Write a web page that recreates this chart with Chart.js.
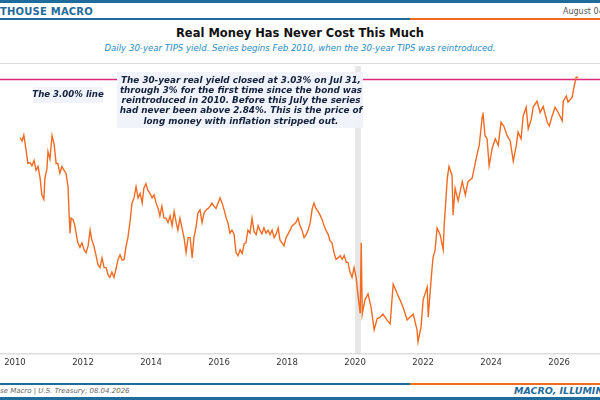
<!DOCTYPE html>
<html><head><meta charset="utf-8">
<script src="https://cdn.jsdelivr.net/npm/chart.js@4"></script>
<style>
html,body{margin:0;padding:0;width:600px;height:400px;overflow:hidden;background:#fff;font-family:"DejaVu Sans",sans-serif;}
.abs{position:absolute;}
</style></head><body>
<div class="abs" style="left:0;top:0;width:600px;height:3px;background:#1f6b9c"></div>
<div class="abs" style="left:0;top:6px;font-size:10px;font-weight:bold;color:#1f6b9c;letter-spacing:0.2px">THOUSE MACRO</div>
<div class="abs" style="left:563px;top:7px;font-size:8px;color:#555;white-space:nowrap">August 04</div>
<div class="abs" style="left:0;top:18px;width:410px;height:2px;background:#1f6b9c"></div>
<div class="abs" style="left:410px;top:18px;width:190px;height:2px;background:#f26b21"></div>
<div class="abs" style="left:0;top:26px;width:600px;text-align:center;font-size:11.5px;font-weight:bold;color:#111">Real Money Has Never Cost This Much</div>
<div class="abs" style="left:0;top:43px;width:600px;text-align:center;font-size:8.6px;font-style:italic;color:#2b8bbf">Daily 30-year TIPS yield. Series begins Feb 2010, when the 30-year TIPS was reintroduced.</div>
<div class="abs" style="left:0;top:63px;width:600px;height:1px;background:#ddd"></div>
<div class="abs" style="left:0;top:66px;width:600px;height:306px"><canvas id="c"></canvas></div>
<div class="abs" style="left:0;top:383px;width:410px;height:1.5px;background:#1f6b9c"></div>
<div class="abs" style="left:410px;top:383px;width:190px;height:1.5px;background:#f26b21"></div>
<div class="abs" style="left:0;top:387px;font-size:7px;font-style:italic;color:#666">se Macro | U.S. Treasury; 08.04.2026</div>
<div class="abs" style="left:514px;top:385px;font-size:9.5px;font-weight:bold;font-style:italic;color:#1f6b9c;white-space:nowrap">MACRO, ILLUMINATED.</div>
<div class="abs" style="left:0;top:397px;width:600px;height:3px;background:#1f6b9c"></div>
<script>
const years = [2010.15,2010.21,2010.26,2010.32,2010.38,2010.44,2010.50,2010.56,2010.62,2010.68,2010.74,2010.79,2010.85,2010.88,2010.94,2010.97,
2011.03,2011.09,2011.15,2011.21,2011.26,2011.32,2011.38,2011.44,2011.50,2011.56,2011.59,2011.62,2011.65,2011.71,2011.76,2011.82,2011.85,2011.91,2011.97,
2012.03,2012.09,2012.15,2012.21,2012.26,2012.32,2012.38,2012.44,2012.50,2012.56,2012.62,2012.68,2012.74,2012.79,2012.85,2012.91,2012.97,
2013.03,2013.09,2013.15,2013.21,2013.26,2013.32,2013.38,2013.44,2013.50,2013.56,2013.62,2013.68,2013.74,2013.79,2013.85,2013.91,2013.97,
2014.03,2014.09,2014.15,2014.21,2014.26,2014.32,2014.38,2014.44,2014.50,2014.56,2014.62,2014.68,2014.74,2014.79,2014.85,2014.91,2014.97,
2015.03,2015.09,2015.15,2015.21,2015.26,2015.32,2015.38,2015.44,2015.50,2015.56,2015.62,2015.68,2015.74,2015.79,2015.85,2015.91,2015.97,
2016.03,2016.09,2016.15,2016.21,2016.26,2016.32,2016.38,2016.44,2016.50,2016.56,2016.62,2016.68,2016.74,2016.79,2016.85,2016.91,2016.97,
2017.03,2017.09,2017.15,2017.21,2017.26,2017.32,2017.38,2017.44,2017.50,2017.56,2017.62,2017.68,2017.74,2017.79,2017.85,2017.91,2017.97,
2018.03,2018.09,2018.15,2018.21,2018.26,2018.32,2018.38,2018.44,2018.50,2018.56,2018.62,2018.68,2018.74,2018.79,2018.85,2018.91,2018.97,
2019.03,2019.09,2019.15,2019.21,2019.26,2019.32,2019.38,2019.44,2019.50,2019.56,2019.62,2019.68,2019.74,2019.79,2019.85,2019.91,2019.97,
2020.03,2020.09,2020.15,2020.18,2020.21,2020.29,2020.38,2020.47,2020.56,2020.65,2020.74,2020.82,2020.94,
2021.03,2021.12,2021.24,2021.32,2021.41,2021.53,2021.62,2021.71,2021.82,2021.85,2021.94,
2022.00,2022.12,2022.15,2022.24,2022.29,2022.35,2022.41,2022.50,2022.59,2022.62,2022.71,2022.76,2022.85,2022.88,2022.94,
2023.03,2023.15,2023.24,2023.32,2023.44,2023.50,2023.59,2023.65,2023.74,2023.76,2023.82,2023.88,2023.94,
2024.03,2024.12,2024.21,2024.29,2024.38,2024.47,2024.56,2024.65,2024.74,2024.79,2024.88,2024.94,
2025.03,2025.09,2025.18,2025.24,2025.35,2025.44,2025.53,2025.65,2025.71,2025.79,2025.88,2025.97,
2026.09,2026.12,2026.21,2026.26,2026.38,2026.44,2026.50,2026.56];
const yields = [2.22,2.18,2.26,2.08,1.88,1.89,1.85,1.92,1.79,1.84,1.68,1.46,1.40,1.68,1.81,2.04,
1.94,2.25,2.14,1.88,1.88,1.75,1.84,1.79,1.75,1.57,1.22,0.95,1.15,1.13,1.05,0.89,0.82,0.76,0.82,
0.73,0.69,0.78,0.99,0.86,0.78,0.66,0.53,0.49,0.62,0.49,0.49,0.39,0.36,0.43,0.36,0.47,
0.60,0.66,0.59,0.60,0.76,0.89,1.09,1.35,1.42,1.57,1.42,1.48,1.35,1.55,1.61,1.52,1.48,
1.42,1.46,1.35,1.28,1.18,1.31,1.15,1.15,1.09,1.18,1.05,1.24,1.09,0.99,1.15,1.02,0.89,
0.69,0.89,0.89,0.62,0.89,1.02,1.22,1.26,1.09,1.22,1.26,1.28,1.31,1.35,1.31,1.28,1.35,
1.42,1.35,1.26,1.15,1.09,0.95,0.99,0.94,0.69,0.65,0.73,0.68,0.81,0.82,0.99,0.95,1.15,
0.97,0.93,1.05,0.98,0.94,1.02,0.95,0.99,0.93,0.99,0.89,0.94,1.02,0.86,0.82,0.78,0.89,
0.94,0.99,1.05,1.07,1.09,1.15,1.05,0.99,0.89,0.93,0.99,1.09,1.28,1.35,1.28,1.24,1.19,
1.13,1.05,0.98,0.93,0.85,0.82,0.69,0.60,0.62,0.65,0.60,0.65,0.56,0.56,0.43,0.36,0.49,
0.36,0.10,-0.12,0.82,-0.13,0.06,0.14,-0.04,-0.34,-0.19,-0.17,-0.13,-0.21,
-0.26,0.27,0.14,0.06,-0.04,-0.21,-0.17,-0.13,-0.34,-0.50,-0.30,
0.06,0.23,-0.17,0.36,0.62,0.72,1.02,0.93,0.73,1.06,1.68,1.84,1.72,1.19,1.55,
1.38,1.64,1.46,1.64,1.68,1.81,2.01,2.12,2.51,2.56,2.25,2.21,1.85,
2.08,2.21,2.12,2.43,2.37,2.25,2.18,1.91,2.12,2.30,2.21,2.51,
2.63,2.34,2.47,2.64,2.71,2.56,2.64,2.43,2.38,2.51,2.63,2.56,
2.45,2.71,2.78,2.70,2.76,2.91,3.03,3.03];
const tickYears = [2010,2012,2014,2016,2018,2020,2022,2024,2026];
const threshold = 3.0;
const shadeStart = 2020.0, shadeEnd = 2020.17;

const overlay = {
  id:'overlay',
  beforeDatasetsDraw(ch){
    const {ctx, chartArea:a, scales:{x,y}} = ch;
    ctx.save();
    ctx.fillStyle='rgba(200,200,200,0.45)';
    const x0=x.getPixelForValue(shadeStart), x1=x.getPixelForValue(shadeEnd);
    ctx.fillRect(x0,a.top,x1-x0,a.bottom-a.top);
    const ty=Math.round(y.getPixelForValue(threshold))+0.5;
    ctx.strokeStyle='#e0287a'; ctx.lineWidth=1.3;
    ctx.beginPath(); ctx.moveTo(a.left,ty); ctx.lineTo(a.right,ty); ctx.stroke();
    ctx.restore();
  },
  afterDraw(ch){
    const {ctx} = ch;
    ctx.save();
    ctx.fillStyle='rgba(240,244,250,0.97)';
    ctx.fillRect(33,21,70,16);
    ctx.fillRect(117,6,246,56);
    ctx.fillStyle='#14213d';
    ctx.textAlign='center'; ctx.textBaseline='middle';
    ctx.font='italic bold 8.6px "DejaVu Sans"';
    ctx.fillText('The 3.00% line',68,29);
    const lines=['The 30-year real yield closed at 3.03% on Jul 31,','through 3% for the first time since the bond was','reintroduced in 2010. Before this July the series','had never been above 2.84%. This is the price of','long money with inflation stripped out.'];
    ctx.font='italic bold 8.8px "DejaVu Sans"';
    lines.forEach((l,i)=>ctx.fillText(l,241,14.5+i*10.2));
    ctx.restore();
  }
};

new Chart(document.getElementById('c'),{
  type:'line',
  data:{datasets:[{data:years.map((v,i)=>({x:v,y:yields[i]})),borderColor:'#f26b21',borderWidth:1.4,pointRadius:0,tension:0,fill:false}]},
  options:{
    responsive:true,maintainAspectRatio:false,animation:false,
    layout:{padding:0},
    plugins:{legend:{display:false},tooltip:{enabled:false}},
    scales:{
      x:{type:'linear',min:2009.56,max:2027.2,
        afterBuildTicks(s){s.ticks=tickYears.map(v=>({value:v}));},
        grid:{display:false,drawTicks:false},
        border:{display:true,color:'#ddd',width:1.5},
        ticks:{color:'#333',font:{family:'DejaVu Sans',size:8.5},padding:4,autoSkip:false,maxRotation:0,callback:v=>String(v)}},
      y:{display:false,min:-0.66,max:3.18}
    }
  },
  plugins:[overlay]
});
</script></body></html>
